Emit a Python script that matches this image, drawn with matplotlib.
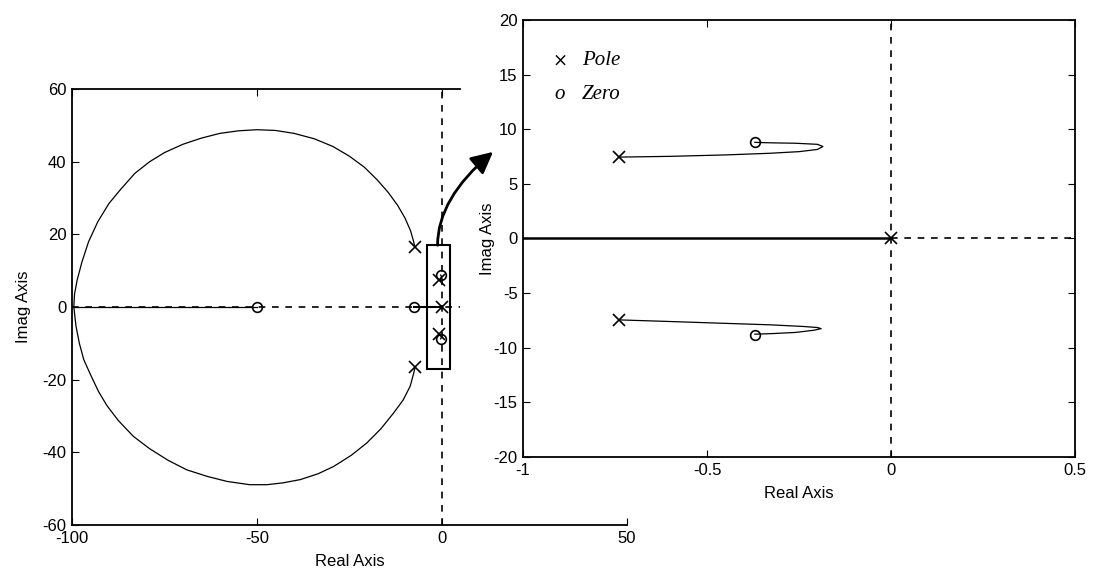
import numpy as np
import matplotlib
matplotlib.use("Agg")
import matplotlib.pyplot as plt
from matplotlib.patches import Rectangle

plt.rcParams['font.family'] = ['Liberation Sans', 'DejaVu Sans']
plt.rcParams['font.size'] = 12
plt.rcParams['axes.unicode_minus'] = False

# poles / zeros of the open loop system
pole_re = [0.0, -7.3, -7.3, -0.74, -0.74]
pole_im = [0.0, 16.5, -16.5, 7.45, -7.45]
zero_re = [-50.0, -7.6, -0.37, -0.37]
zero_im = [0.0, 0.0, 8.8, -8.8]

# big loop of the locus
arc_up_x = [-7.3, -7.8, -8.5, -10.0, -12.0, -14.5, -17.5, -21.0, -25.0, -29.5, -34.5,
            -40.0, -45.0, -50.0, -55.0, -60.0, -65.0, -70.0, -75.0, -79.0, -83.0,
            -87.0, -90.0, -93.0, -95.5, -97.3, -98.6, -99.3, -99.5]
arc_up_y = [16.5, 18.5, 21.0, 24.5, 28.0, 31.5, 35.0, 38.5, 41.5, 44.2, 46.3,
            47.8, 48.6, 48.8, 48.5, 47.8, 46.5, 44.8, 42.5, 40.0, 36.8,
            32.2, 28.5, 23.5, 18.0, 12.4, 7.4, 3.6, 0.0]
arc_lo_x = [-7.3, -7.9, -8.6, -10.5, -13.1, -16.5, -20.3, -24.5, -29.3, -33.5, -38.3,
            -43.0, -47.3, -52.0, -58.1, -63.5, -69.0, -74.0, -79.0, -83.4, -87.5,
            -90.5, -92.8, -94.9, -96.8, -98.0, -98.9, -99.5]
arc_lo_y = [-16.8, -19.2, -21.8, -25.6, -29.2, -33.5, -37.4, -40.8, -43.9, -45.9, -47.5,
            -48.4, -48.9, -48.9, -48.0, -46.6, -44.8, -42.2, -39.0, -35.6, -31.2,
            -27.2, -23.3, -18.8, -14.5, -10.0, -5.3, 0.0]

# real axis segments of the locus
real_a = [-99.5, -50.0]
real_b = [-7.6, 0.0]

# small branches near the origin (zoomed view)
br_up_x = [-0.74, -0.6, -0.45, -0.33, -0.25, -0.2, -0.185, -0.2, -0.26, -0.33, -0.37]
br_up_y = [7.45, 7.52, 7.65, 7.8, 7.95, 8.15, 8.42, 8.62, 8.72, 8.76, 8.8]
br_lo_x = [-0.74, -0.6, -0.44, -0.33, -0.24, -0.2, -0.19, -0.21, -0.26, -0.32, -0.37]
br_lo_y = [-7.45, -7.6, -7.78, -7.9, -8.05, -8.15, -8.25, -8.4, -8.6, -8.7, -8.76]

fig = plt.figure(figsize=(11.07, 5.8), dpi=100)

# ---- left: full root locus
ax1 = fig.add_axes([0.065, 0.0948, 0.5014, 0.7517])
ax1.set_zorder(0)
ax1.plot([-100, 5], [0, 0], 'k--', lw=1.2, dashes=(4, 4))
ax1.axvline(0, color='k', ls='--', lw=1.2, dashes=(4, 4))
ax1.plot(arc_up_x, arc_up_y, 'k-', lw=0.9)
ax1.plot(arc_lo_x, arc_lo_y, 'k-', lw=0.9)
ax1.plot(real_a, [0, 0], 'k-', lw=0.9)
ax1.plot(real_b, [0, 0], 'k-', lw=1.5)
ax1.plot(br_up_x, br_up_y, 'k-', lw=0.9)
ax1.plot(br_lo_x, br_lo_y, 'k-', lw=0.9)
ax1.plot(pole_re, pole_im, 'kx', ms=9, mew=1.2)
ax1.plot(zero_re, zero_im, 'o', mfc='none', mec='k', ms=7, mew=1.2)
ax1.add_patch(Rectangle((-4.1, -17.0), 6.3, 34.0, fill=False, ec='k', lw=1.5))
ax1.annotate('', xy=(13.8, 42.7), xytext=(-1.2, 17.0),
             arrowprops=dict(arrowstyle='-|>,head_length=0.6,head_width=0.3', color='k', lw=2,
                             mutation_scale=22,
                             connectionstyle='angle3,angleA=90,angleB=40',
                             shrinkA=0, shrinkB=0),
             annotation_clip=False)
ax1.set_xlim(-100, 50)
ax1.set_ylim(-60, 60)
ax1.set_xticks([-100, -50, 0, 50])
ax1.set_yticks([-60, -40, -20, 0, 20, 40, 60])
ax1.spines['right'].set_visible(False)
ax1.spines['top'].set_bounds(-100, 5)
for s in ax1.spines.values():
    s.set_linewidth(1.3)
ax1.tick_params(direction='in', top=True, right=False, length=5, pad=4)
ax1.set_xlabel('Real Axis', labelpad=6)
ax1.set_ylabel('Imag Axis', labelpad=8)

# ---- right: zoom around the origin
ax2 = fig.add_axes([0.4725, 0.2121, 0.4986, 0.7534])
ax2.set_zorder(2)
ax2.set_facecolor('white')
ax2.plot([0, 0.5], [0, 0], 'k--', lw=1.2, dashes=(4, 4))
ax2.axvline(0, color='k', ls='--', lw=1.2, dashes=(4, 4))
ax2.plot([-100, 0], [0, 0], 'k-', lw=1.8)
ax2.plot(br_up_x, br_up_y, 'k-', lw=0.9)
ax2.plot(br_lo_x, br_lo_y, 'k-', lw=0.9)
ax2.plot(pole_re, pole_im, 'kx', ms=9, mew=1.2)
ax2.plot(zero_re, zero_im, 'o', mfc='none', mec='k', ms=7, mew=1.2)
ax2.text(-0.9, 16.3, '\u00d7', family='DejaVu Serif', fontsize=13, ha='center', va='center')
ax2.text(-0.84, 16.3, 'Pole', family='Liberation Serif', style='italic', fontsize=15, va='center')
ax2.text(-0.9, 13.2, 'o', family='Liberation Serif', style='italic', fontsize=15, ha='center', va='center')
ax2.text(-0.84, 13.2, 'Zero', family='Liberation Serif', style='italic', fontsize=15, va='center')
ax2.set_xlim(-1, 0.5)
ax2.set_ylim(-20, 20)
ax2.set_xticks([-1, -0.5, 0, 0.5])
ax2.set_xticklabels(['-1', '-0.5', '0', '0.5'])
ax2.set_yticks([-20, -15, -10, -5, 0, 5, 10, 15, 20])
for s in ax2.spines.values():
    s.set_linewidth(1.3)
ax2.tick_params(direction='in', top=True, right=True, length=5, pad=4)
ax2.set_xlabel('Real Axis', labelpad=6)
ax2.set_ylabel('Imag Axis', labelpad=-1)

fig.savefig('out.png', dpi=100, facecolor='white')
